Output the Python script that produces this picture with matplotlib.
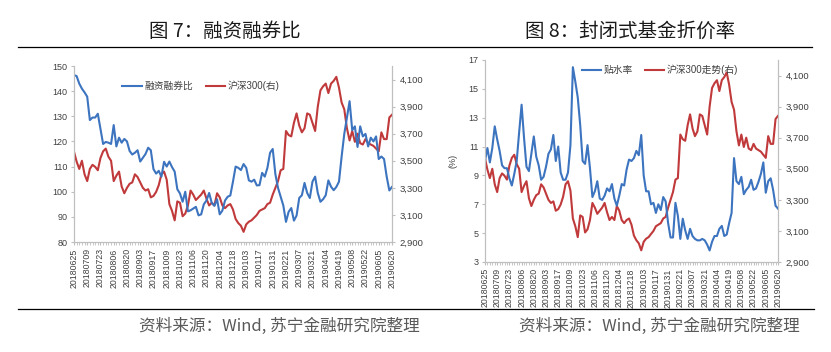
import matplotlib
matplotlib.use('Agg')
import matplotlib.pyplot as plt
from matplotlib.lines import Line2D
import numpy as np

plt.rcParams['font.family'] = ['Liberation Sans', 'Noto Sans CJK SC']

# tick labels on the date axis (one every 10 trading days)
date_labels = ['20180625', '20180709', '20180723', '20180806', '20180820',
               '20180903', '20180917', '20181009', '20181023', '20181106',
               '20181120', '20181204', '20181218', '20190103', '20190117',
               '20190131', '20190221', '20190307', '20190321', '20190404',
               '20190419', '20190508', '20190522', '20190605', '20190620']

# CSI 300 close, read every 2nd trading day
hs300 = [3568, 3494, 3440, 3500, 3400, 3350, 3440, 3470, 3455, 3430,
         3520, 3570, 3590, 3530, 3500, 3350, 3390, 3420, 3310, 3260,
         3300, 3330, 3340, 3400, 3380, 3340, 3300, 3280, 3290, 3230,
         3240, 3270, 3320, 3400, 3420, 3360, 3180, 3130, 3060, 3200,
         3190, 3090, 3110, 3170, 3280, 3250, 3210, 3230, 3250, 3280,
         3220, 3170, 3190, 3170, 3260, 3230, 3170, 3150, 3170, 3180,
         3140, 3070, 3040, 3020, 2975, 3030, 3050, 3060, 3080, 3100,
         3130, 3140, 3150, 3180, 3190, 3250, 3300, 3350, 3430, 3440,
         3720, 3690, 3680, 3780, 3850, 3760, 3710, 3740, 3850, 3840,
         3780, 3720, 3900, 4020, 4050, 4070, 4000, 4070, 4090, 4120,
         4040, 3930, 3880, 3740, 3650, 3720, 3640, 3700, 3630, 3620,
         3660, 3630, 3620, 3610, 3590, 3570, 3710, 3660, 3660, 3820, 3840]

# margin financing / securities lending ratio
rzrq = [146.4, 146, 143, 141, 139.5, 137.8, 128.5, 129.5, 129.5, 131,
        125, 119, 119.8, 119.5, 119, 126.5, 118, 121.5, 119.5, 121,
        120, 116.2, 114.8, 115.5, 116.5, 112, 113.5, 115, 117.5, 116.5,
        109, 107.2, 108.3, 106, 111.9, 110, 112, 109.8, 108, 101,
        99.3, 96, 100, 92.2, 92.6, 93.3, 94, 90.6, 91, 95,
        96.5, 99.5, 95.5, 94.4, 97, 91, 92.5, 96.5, 98, 98.5,
        104, 110, 109.5, 108.6, 111, 109.5, 104.5, 104, 104.8, 102.5,
        102.6, 107.5, 106, 109.5, 115.5, 117, 107, 101.5, 98, 94.5,
        88, 92, 93.5, 88.5, 90.5, 97.5, 98.6, 103.5, 99.5, 97.5,
        104, 106, 99.5, 96, 97, 98.6, 104.5, 102, 100.6, 101.9,
        104, 114, 123, 129.5, 136, 124.5, 126, 117.8, 126, 122,
        123, 118, 121.5, 120, 122, 113, 114, 113, 106, 100.5, 101.9]

# closed-end fund discount rate (%)
discount = [10.0, 10.9, 9.9, 10.9, 12.4, 11.5, 10.7, 9.7, 9.5, 9.5,
            8.8, 8.3, 9.1, 10.0, 12.0, 13.9, 11.6, 9.6, 9.3, 10.5,
            11.7, 10.3, 9.7, 8.7, 8.9, 9.6, 10.5, 10.8, 11.8, 10.0,
            11.0, 9.2, 8.7, 8.7, 9.2, 11.1, 16.5, 15.5, 14.4, 12.5,
            10.0, 9.8, 11.1, 9.5, 7.5, 7.9, 8.6, 7.4, 7.3, 7.6,
            8.1, 7.9, 8.4, 7.4, 6.9, 7.6, 8.4, 8.3, 9.4, 10.1,
            10.0, 10.2, 10.7, 10.4, 11.8, 9.0, 7.9, 7.9, 7.0, 7.1,
            6.4, 7.0, 6.6, 7.5, 7.2, 5.7, 4.7, 4.7, 7.1, 6.2,
            4.6, 6.0, 5.2, 4.6, 5.3, 4.8, 4.6, 4.5, 4.5, 4.6,
            4.5, 4.2, 3.8, 4.4, 4.8, 4.8, 5.3, 5.5, 4.8, 4.9,
            5.7, 6.4, 10.2, 8.6, 8.4, 8.9, 7.7, 8.0, 8.2, 8.7,
            8.0, 8.1, 8.55, 9.1, 9.9, 7.8, 8.6, 8.8, 8.0, 6.9, 6.7]

BLUE = '#3d74bf'
RED = '#c0393b'
GRID = '#bfbfbf'
TXT = '#404040'

x = np.arange(0, 241, 2)
label_pos = np.arange(0, 241, 10)

fig = plt.figure(figsize=(8.31, 3.52), dpi=100)


def style(ax, axr, ylim, yticks, ylim_r, yticks_r, yfmt):
    ax.set_xlim(0, 240)
    ax.set_xticks(label_pos)
    ax.set_xticklabels(date_labels, rotation=90, fontsize=6.3, color=TXT)
    ax.set_xticks(np.arange(0, 241, 2), minor=True)
    ax.tick_params(axis='x', which='both', direction='out', length=2.5,
                   color=GRID, pad=2)
    ax.set_ylim(*ylim)
    ax.set_yticks(yticks)
    ax.set_yticklabels([yfmt(v) for v in yticks], fontsize=6.5, color=TXT)
    ax.tick_params(axis='y', direction='out', length=2.5, color=GRID, pad=2)
    axr.set_ylim(*ylim_r)
    axr.set_yticks(yticks_r)
    axr.set_yticklabels(['{:,}'.format(v) for v in yticks_r], fontsize=6.8,
                        color=TXT)
    axr.tick_params(axis='y', direction='out', length=2.5, color=GRID, pad=3)
    for a in (ax, axr):
        a.spines['top'].set_visible(False)
        for s in ('left', 'right', 'bottom'):
            a.spines[s].set_color(GRID)
            a.spines[s].set_linewidth(0.8)


# left chart: margin ratio
ax1 = fig.add_axes([0.089, 0.3125, 0.3827, 0.5])
ax1r = ax1.twinx()
ax1r.plot(x, hs300, color=RED, lw=1.5, label='沪深300(右)')
ax1.plot(x, rzrq, color=BLUE, lw=1.5, label='融资融券比')
ax1.set_zorder(ax1r.get_zorder() + 1)
ax1.patch.set_visible(False)
style(ax1, ax1r, (80, 150), list(range(80, 151, 10)), (2900, 4200),
      list(range(2900, 4101, 200)), lambda v: str(v))
h1, l1 = ax1.get_legend_handles_labels()
h2, l2 = ax1r.get_legend_handles_labels()
ax1.legend(h1 + h2, l1 + l2, ncol=2, frameon=False, fontsize=7,
           handlelength=2.0, handletextpad=0.25, columnspacing=1.3,
           loc='center', bbox_to_anchor=(201 / 831, 1 - 86 / 352),
           bbox_transform=fig.transFigure, labelcolor=TXT)

# right chart: closed-end fund discount
ax2 = fig.add_axes([0.5836, 0.2557, 0.3526, 0.5739])
ax2r = ax2.twinx()
ax2r.plot(x, hs300, color=RED, lw=1.5, label='沪深300走势(右)')
ax2.plot(x, discount, color=BLUE, lw=1.5, label='贴水率')
ax2.set_zorder(ax2r.get_zorder() + 1)
ax2.patch.set_visible(False)
style(ax2, ax2r, (3, 17), list(range(3, 18, 2)), (2900, 4200),
      list(range(2900, 4101, 200)), lambda v: str(v))
ax2.set_ylabel('(%)', fontsize=6.5, color=TXT, labelpad=8)
h1, l1 = ax2.get_legend_handles_labels()
h2, l2 = ax2r.get_legend_handles_labels()
ax2.legend(h1 + h2, l1 + l2, ncol=2, frameon=False, fontsize=7,
           handlelength=1.9, handletextpad=0.25, columnspacing=1.3,
           loc='center', bbox_to_anchor=(660 / 831, 1 - 70 / 352),
           bbox_transform=fig.transFigure, labelcolor=TXT)

# titles, rules and source notes
title_font = ['Noto Sans CJK SC', 'DejaVu Sans']
fig.text(225 / 831, 1 - 31 / 352, '图 7：融资融券比', ha='center', va='center',
         fontsize=14, family=title_font, color='#1a1a1a')
fig.text(630 / 831, 1 - 31 / 352, '图 8：封闭式基金折价率', ha='center',
         va='center', fontsize=14, family=title_font, color='#1a1a1a')
fig.add_artist(Line2D([18 / 831, 812 / 831], [1 - 47 / 352] * 2,
                      color='black', lw=0.9, transform=fig.transFigure))
fig.add_artist(Line2D([18 / 831, 814 / 831], [1 - 309 / 352] * 2,
                      color='black', lw=0.9, transform=fig.transFigure))
src = '资料来源：Wind, 苏宁金融研究院整理'
fig.text(279 / 831, 1 - 326 / 352, src, ha='center', va='center',
         fontsize=12, family=title_font, color='#595959', style='italic')
fig.text(659 / 831, 1 - 326 / 352, src, ha='center', va='center',
         fontsize=12, family=title_font, color='#595959', style='italic')

fig.savefig('out.png', dpi=100)
